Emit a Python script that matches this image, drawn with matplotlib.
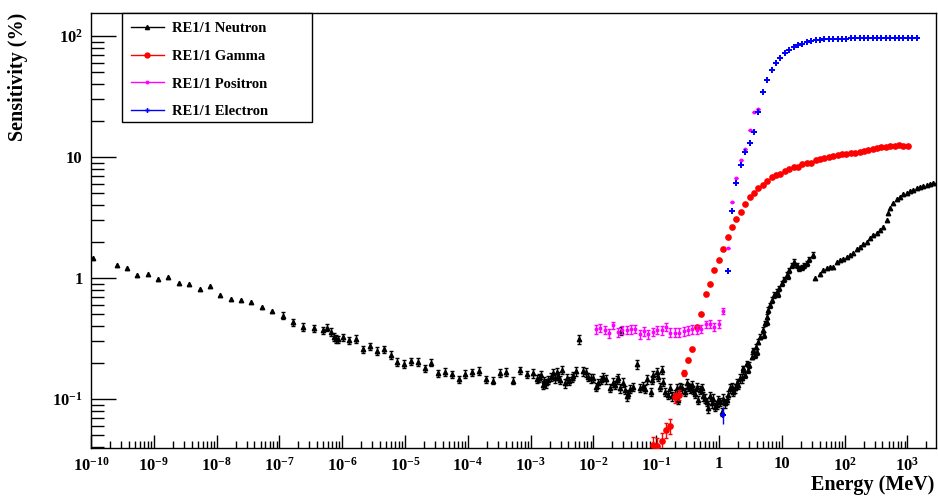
import matplotlib
matplotlib.use("Agg")
import matplotlib.pyplot as plt
import numpy as np
from matplotlib.lines import Line2D
from matplotlib.patches import Rectangle
from matplotlib.ticker import LogLocator, NullFormatter

plt.rcParams['font.family'] = 'Liberation Serif'
plt.rcParams['font.weight'] = 'bold'
plt.rcParams['mathtext.fontset'] = 'custom'
plt.rcParams['mathtext.rm'] = 'Liberation Serif:bold'
plt.rcParams['mathtext.it'] = 'Liberation Serif:bold'
plt.rcParams['mathtext.bf'] = 'Liberation Serif:bold'

# ---------------- data (energy in MeV, sensitivity in %) ----------------
# common energy bins of the gamma / positron / electron curves
e_bins = [0.01089, 0.01279, 0.01503, 0.01766, 0.02075, 0.02438, 0.02864, 0.03365,
          0.03954, 0.04645, 0.05458, 0.06412, 0.07534, 0.08851, 0.1040, 0.1222,
          0.1435, 0.1687, 0.1982, 0.2328, 0.2735, 0.3214, 0.3776, 0.4436,
          0.5212, 0.6124, 0.7194, 0.8453, 0.9931, 1.167, 1.371, 1.611,
          1.892, 2.223, 2.612, 3.069, 3.606, 4.236, 4.977, 5.848,
          6.871, 8.072, 9.484, 11.14, 13.09, 15.38, 18.07, 21.23,
          24.95, 29.31, 34.43, 40.46, 47.53, 55.85, 65.61, 77.09,
          90.57, 106.4, 125.0, 146.9, 172.6, 202.8, 238.2, 279.9,
          328.9, 386.4, 453.9, 533.3, 626.6, 736.2, 864.9, 1016,
          1194, 1403]

gamma_e = e_bins[13:72]
gamma_s = [0.0417, 0.0411, 0.0452, 0.0554, 0.0598, 0.103, 0.108, 0.165, 0.210, 0.258,
           0.392, 0.504, 0.742, 0.892, 1.16, 1.40, 1.74, 2.17, 2.65, 3.06,
           3.49, 4.09, 4.70, 5.07, 5.54, 5.90, 6.36, 6.86, 7.13, 7.24,
           7.62, 7.96, 8.27, 8.32, 8.75, 8.97, 9.0, 9.39, 9.68, 9.86,
           10.0, 10.2, 10.3, 10.5, 10.6, 10.7, 10.9, 11.1, 11.3, 11.5,
           11.6, 11.9, 12.0, 12.2, 12.3, 12.4, 12.6, 12.4, 12.3]
gamma_err = [0.007, 0.007, 0.007, 0.008, 0.008, 0.010, 0.010, 0.009, 0.008, 0.008] + [0.0] * 49

positron_e = e_bins[0:38]
positron_s = [0.377, 0.389, 0.372, 0.349, 0.407, 0.356, 0.372, 0.372, 0.377, 0.381,
              0.344, 0.365, 0.344, 0.360, 0.372, 0.369, 0.396, 0.353, 0.353, 0.353,
              0.362, 0.369, 0.377, 0.372, 0.381, 0.414, 0.416, 0.396, 0.416, 0.537,
              1.76, 4.22, 6.74, 9.44, 11.6, 16.7, 23.7, 24.8]
positron_err = [0.03] * 30 + [0.0] * 8

electron_e = e_bins[29:74]
electron_s = [0.074, 1.15, 3.60, 6.13, 8.59, 11.1, 13.0, 16.2, 23.4, 34.3,
              43.3, 52.4, 60.1, 66.2, 71.9, 76.6, 80.7, 83.8, 86.3, 88.6,
              90.3, 92.0, 93.0, 93.8, 94.3, 94.7, 95.0, 95.2, 95.4, 95.5,
              95.6, 95.7, 95.8, 95.8, 95.9, 95.9, 96.0, 96.0, 96.0, 96.1,
              96.1, 96.1, 96.2, 96.2, 96.2]
electron_err = [0.012] + [0.0] * 44

# neutron: thermal / epithermal part
n_low_e = [1.08e-10, 2.56e-10, 3.74e-10, 5.46e-10, 8.0e-10, 1.17e-9, 1.70e-9, 2.49e-9,
           3.63e-9, 5.37e-9, 7.85e-9, 1.15e-8, 1.68e-8, 2.45e-8, 3.57e-8, 5.22e-8, 7.62e-8]
n_low_s = [1.47, 1.27, 1.21, 1.06, 1.09, 0.99, 1.02, 0.915, 0.90, 0.81, 0.86, 0.72,
           0.675, 0.654, 0.63, 0.58, 0.533]

n_mid_e = [1.13e-7, 1.65e-7, 2.40e-7, 3.56e-7, 4.9e-7, 5.8e-7, 6.6e-7, 7.4e-7, 8.0e-7,
           8.67e-7, 1.02e-6, 1.30e-6, 1.68e-6, 2.17e-6, 2.77e-6, 3.58e-6, 4.58e-6,
           5.92e-6, 7.55e-6, 9.64e-6, 1.23e-5, 1.59e-5, 2.06e-5, 2.63e-5, 3.36e-5,
           4.34e-5, 5.60e-5, 7.16e-5, 9.12e-5, 1.18e-4, 1.51e-4, 1.95e-4, 2.49e-4,
           3.22e-4, 4.10e-4, 5.25e-4, 6.78e-4, 8.67e-4]
n_mid_s = [0.49, 0.43, 0.396, 0.384, 0.37, 0.39, 0.358, 0.327, 0.315, 0.311, 0.323,
           0.307, 0.315, 0.257, 0.274, 0.251, 0.257, 0.231, 0.203, 0.195, 0.206, 0.203,
           0.179, 0.20, 0.163, 0.168, 0.16, 0.146, 0.161, 0.166, 0.171, 0.146, 0.142,
           0.165, 0.168, 0.142, 0.173, 0.16]

n_dense_e = [1.10e-3, 1.28e-3, 1.38e-3, 1.47e-3, 1.56e-3, 1.63e-3, 1.76e-3, 1.91e-3,
             2.09e-3, 2.25e-3, 2.45e-3, 2.61e-3, 2.76e-3, 2.94e-3, 3.20e-3, 3.53e-3,
             3.84e-3, 4.13e-3, 4.51e-3, 4.79e-3, 5.28e-3, 5.96e-3, 6.76e-3, 7.62e-3,
             8.30e-3, 9.06e-3, 9.97e-3, 1.10e-2, 1.20e-2, 1.31e-2, 1.44e-2, 1.59e-2,
             1.84e-2, 2.03e-2, 2.21e-2, 2.35e-2, 2.49e-2, 2.72e-2, 2.66e-2, 2.99e-2,
             3.18e-2, 3.39e-2, 3.59e-2, 3.83e-2, 4.32e-2, 4.89e-2, 5.52e-2, 6.10e-2,
             6.64e-2, 7.21e-2, 8.26e-2, 8.48e-2, 8.99e-2, 0.102, 0.108, 0.115,
             0.125, 0.130, 0.138, 0.156, 0.166, 0.177, 0.199, 0.212,
             0.222, 0.239, 0.255, 0.288, 0.306, 0.324, 0.345, 0.367,
             0.390, 0.415, 0.441, 0.468, 0.498, 0.531, 0.562, 0.598,
             0.637, 0.676, 0.719, 0.765, 0.812, 0.864, 0.919, 0.975,
             1.04, 1.10, 1.17, 1.25, 1.33, 1.41, 1.50, 1.59,
             1.69, 1.80, 1.91, 2.03, 2.16, 2.30, 2.44]
n_dense_s = [0.163, 0.147, 0.150, 0.158, 0.131, 0.141, 0.135, 0.144,
             0.153, 0.163, 0.148, 0.166, 0.156, 0.144, 0.174, 0.135,
             0.148, 0.141, 0.150, 0.156, 0.170, 0.311, 0.170, 0.166,
             0.153, 0.148, 0.150, 0.126, 0.135, 0.144, 0.153, 0.146,
             0.124, 0.137, 0.131, 0.144, 0.150, 0.367, 0.123, 0.137,
             0.119, 0.105, 0.111, 0.121, 0.126, 0.194, 0.124, 0.129,
             0.121, 0.146, 0.115, 0.144, 0.158, 0.168, 0.153, 0.126,
             0.174, 0.139, 0.115, 0.108, 0.123, 0.105, 0.111, 0.123,
             0.098, 0.126, 0.123, 0.115, 0.135, 0.126, 0.123, 0.131,
             0.119, 0.111, 0.126, 0.098, 0.119, 0.123, 0.105, 0.101,
             0.095, 0.0838, 0.105, 0.092, 0.101, 0.0863, 0.0892, 0.098,
             0.095, 0.0785, 0.101, 0.092, 0.098, 0.108, 0.123, 0.126,
             0.115, 0.123, 0.135, 0.131, 0.148, 0.148, 0.174]

n_rise_e = [2.44, 2.59, 2.76, 2.90, 3.04, 3.32, 3.52, 3.74, 3.88, 4.03, 4.23, 4.50,
            4.97, 5.21, 5.40, 5.75, 5.81, 6.10, 6.49, 6.90, 7.51, 8.29, 8.71, 9.12,
            9.96, 10.8, 12.0, 12.6, 13.2, 14.4, 15.6, 17.3, 19.0, 20.7, 22.6, 24.9,
            27.4, 31.0]
n_rise_s = [0.179, 0.158, 0.197, 0.174, 0.191, 0.224, 0.254, 0.231, 0.271, 0.245,
            0.298, 0.327, 0.372, 0.338, 0.422, 0.479, 0.433, 0.544, 0.598, 0.658,
            0.724, 0.771, 0.738, 0.822, 0.904, 0.976, 1.06, 1.04, 1.16, 1.28,
            1.36, 1.28, 1.20, 1.23, 1.28, 1.32, 1.43, 1.55]

n_high_e = [33.8, 40.6, 45.8, 51.9, 58.6, 66.2, 74.9, 84.6, 95.5, 108, 122, 138,
            156, 176, 199, 225, 254, 287, 324, 366, 413, 468, 497, 528, 597, 675,
            762, 860, 973, 1099, 1241, 1406, 1588, 1791, 2028, 2291, 2584, 2924]
n_high_s = [0.994, 1.09, 1.16, 1.20, 1.23, 1.24, 1.36, 1.41, 1.45, 1.50, 1.55, 1.61,
            1.74, 1.81, 1.91, 1.99, 2.13, 2.27, 2.37, 2.49, 2.65, 3.02, 3.42, 3.77,
            4.14, 4.47, 4.70, 4.92, 5.06, 5.21, 5.33, 5.51, 5.69, 5.79, 5.87, 5.98,
            6.10, 6.18]

# relative statistical errors of the neutron segments
n_mid_rel = 0.07
n_dense_rel = 0.08
n_rise_rel = 0.05

x_ticks = [1e-10, 1e-9, 1e-8, 1e-7, 1e-6, 1e-5, 1e-4, 1e-3, 1e-2, 1e-1, 1, 10, 1e2, 1e3]
x_labels = [r'$10^{-10}$', r'$10^{-9}$', r'$10^{-8}$', r'$10^{-7}$', r'$10^{-6}$',
            r'$10^{-5}$', r'$10^{-4}$', r'$10^{-3}$', r'$10^{-2}$', r'$10^{-1}$',
            '1', '10', r'$10^{2}$', r'$10^{3}$']
y_ticks = [0.1, 1, 10, 100]
y_labels = [r'$10^{-1}$', '1', '10', r'$10^{2}$']

# ---------------- figure ----------------
fig = plt.figure(figsize=(9.38, 4.96), dpi=100)
ax = fig.add_axes([91/938, 48/496, 845/938, 435/496])

BLK = "black"; RED = "#ff0000"; MAG = "#ff00ff"; BLU = "#0000ff"
eb = dict(ls="none", elinewidth=1.0, capsize=1.2, capthick=1.0)

ax.plot(n_low_e, n_low_s, ls="none", marker="^", ms=3.2, color=BLK, zorder=3)
for e, s, rel in [(n_mid_e, n_mid_s, n_mid_rel), (n_dense_e, n_dense_s, n_dense_rel),
                  (n_rise_e, n_rise_s, n_rise_rel)]:
    s = np.array(s)
    ax.errorbar(e, s, yerr=s * rel, fmt="^", ms=3.2, color=BLK, zorder=3, **eb)
ax.plot(n_high_e, n_high_s, ls="none", marker="^", ms=3.2, color=BLK, zorder=3)

ax.errorbar(gamma_e, gamma_s, yerr=gamma_err, fmt="o", ms=3.8, color=RED, zorder=4, **eb)
ax.errorbar(positron_e, positron_s, yerr=positron_err, fmt="o", ms=1.8, color=MAG,
            zorder=5, **eb)
ax.errorbar(electron_e, electron_s, yerr=electron_err, fmt="P", ms=4.2, mew=0,
            color=BLU, zorder=6, **eb)

ax.set_xscale("log"); ax.set_yscale("log")
ax.set_xlim(1e-10, 2851)
ax.set_ylim(0.0394, 155)

ax.set_xticks(x_ticks)
ax.set_xticklabels(x_labels)
ax.set_yticks(y_ticks)
ax.set_yticklabels(y_labels)
ax.xaxis.set_minor_locator(LogLocator(base=10, subs=np.arange(2, 10), numticks=200))
ax.yaxis.set_minor_locator(LogLocator(base=10, subs=np.arange(2, 10), numticks=200))
ax.xaxis.set_minor_formatter(NullFormatter())
ax.yaxis.set_minor_formatter(NullFormatter())

ax.tick_params(axis="x", which="major", direction="in", length=9.4, width=1,
               labelsize=12, pad=6, top=False)
ax.tick_params(axis="x", which="minor", direction="in", length=5, width=1, top=False)
ax.tick_params(axis="y", which="major", direction="in", length=18, width=1,
               labelsize=12, pad=6, right=False)
ax.tick_params(axis="y", which="minor", direction="in", length=9, width=1, right=False)
for sp in ax.spines.values():
    sp.set_linewidth(1.0)

fig.text(18/938, (496-13)/496, "Sensitivity (%)", rotation=90, ha="center", va="top",
         fontsize=14.5, fontweight="bold")
fig.text(934/938, 1/496, "Energy (MeV)", ha="right", va="bottom",
         fontsize=14.5, fontweight="bold")

# legend (fixed ROOT-like box)
ax.add_patch(Rectangle((31/845, 326/435), 190/845, 109/435, transform=ax.transAxes,
                       fc="white", ec="black", lw=1.0, zorder=8, clip_on=False))
handles = [Line2D([0], [0], color=BLK, lw=1, marker="^", ms=3),
           Line2D([0], [0], color=RED, lw=1, marker="o", ms=3.5),
           Line2D([0], [0], color=MAG, lw=1, marker="o", ms=1.8),
           Line2D([0], [0], color=BLU, lw=1, marker="P", ms=3.5, mew=0)]
labels = ["RE1/1 Neutron", "RE1/1 Gamma", "RE1/1 Positron", "RE1/1 Electron"]
leg = ax.legend(handles, labels, loc="upper left", bbox_to_anchor=(31/845, 1.0),
                borderaxespad=0, borderpad=0.6, handlelength=2.26, handletextpad=0.55,
                labelspacing=1.0, fontsize=10.5, frameon=False)
leg.set_zorder(9)

fig.savefig("out.png", dpi=100)
